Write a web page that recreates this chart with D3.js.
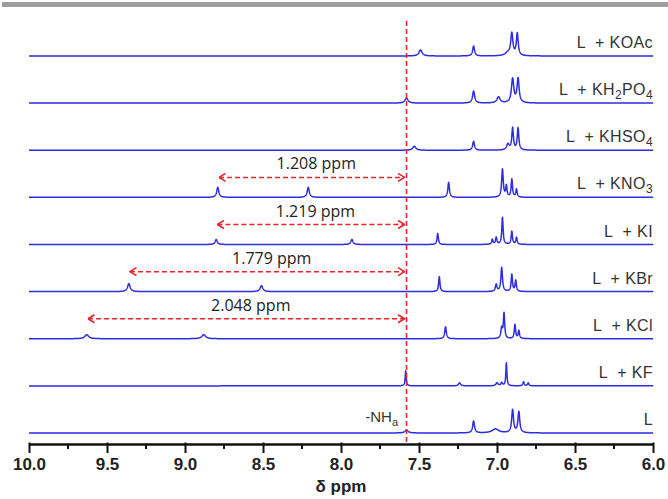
<!DOCTYPE html>
<html>
<head>
<meta charset="utf-8">
<script src="https://cdn.jsdelivr.net/npm/d3@7"></script>
<style>
  html, body { margin:0; padding:0; background:#fff; }
  svg { display:block; font-family: "Liberation Sans", Arial, sans-serif; }
</style>
</head>
<body>
<div id="chart"></div>
<script>
// stacked 1H NMR spectra, L with potassium salts

// trace order top -> bottom
const traces = ["KOAc", "KH2PO4", "KHSO4", "KNO3", "KI", "KBr", "KCl", "KF", "L"];

// peaks: [ppm, height, half width (ppm)]
const peaksKOAc   = [[7.49, 6, 0.012], [7.15, 10, 0.007], [6.93, 3, 0.02], [6.905, 22, 0.008], [6.87, 22, 0.007]];
const peaksKH2PO4 = [[7.58, 5, 0.012], [7.15, 12, 0.008], [6.99, 6, 0.012], [6.90, 24, 0.009], [6.865, 24, 0.008]];
const peaksKHSO4  = [[7.53, 4, 0.012], [7.15, 9, 0.007], [6.93, 6, 0.01], [6.90, 22, 0.006], [6.865, 22, 0.006]];
const peaksKNO3   = [[8.79, 10, 0.008], [8.21, 10, 0.008], [7.31, 15, 0.006], [6.965, 28, 0.006], [6.94, 11, 0.005], [6.905, 18, 0.005], [6.875, 8, 0.005]];
const peaksKI     = [[8.80, 5, 0.008], [7.93, 5, 0.008], [7.38, 11, 0.005], [7.03, 5, 0.005], [7.005, 7, 0.005], [6.965, 27, 0.005], [6.905, 13, 0.005], [6.875, 7, 0.005]];
const peaksKBr    = [[9.36, 8, 0.01], [8.51, 6, 0.01], [7.37, 15, 0.005], [7.005, 7, 0.006], [6.97, 24, 0.006], [6.905, 17, 0.005], [6.88, 11, 0.005]];
const peaksKCl    = [[9.63, 4, 0.015], [8.88, 4, 0.015], [7.33, 12, 0.006], [6.97, 10, 0.006], [6.955, 25, 0.005], [6.885, 14, 0.005], [6.86, 8, 0.005]];
const peaksKF     = [[7.585, 15, 0.004], [7.24, 3, 0.008], [7.00, 3, 0.008], [6.97, 3, 0.006], [6.94, 23, 0.004], [6.83, 4, 0.005], [6.80, 3, 0.005]];
const peaksL      = [[7.58, 3, 0.012], [7.15, 12, 0.007], [7.01, 4, 0.025], [6.90, 23, 0.007], [6.86, 21, 0.007]];

const peaksByTrace = {
  KOAc: peaksKOAc, KH2PO4: peaksKH2PO4, KHSO4: peaksKHSO4, KNO3: peaksKNO3,
  KI: peaksKI, KBr: peaksKBr, KCl: peaksKCl, KF: peaksKF, L: peaksL
};

// right-hand labels as [text, isSubscript] pieces
const labelParts = {
  KOAc:   [["KOAc", false]],
  KH2PO4: [["KH", false], ["2", true], ["PO", false], ["4", true]],
  KHSO4:  [["KHSO", false], ["4", true]],
  KNO3:   [["KNO", false], ["3", true]],
  KI:     [["KI", false]],
  KBr:    [["KBr", false]],
  KCl:    [["KCl", false]],
  KF:     [["KF", false]],
  L:      []
};

// shift arrows back to the free ligand NH
const NH_PPM = 7.58;
const shiftTraces = ["KNO3", "KI", "KBr", "KCl"];
const shiftValues = [1.208, 1.219, 1.779, 2.048];

const xTicksMajor = [10.0, 9.5, 9.0, 8.5, 8.0, 7.5, 7.0, 6.5, 6.0];
const xTicksMinor = [9.75, 9.25, 8.75, 8.25, 7.75, 7.25, 6.75, 6.25];

// --- layout ---
const W = 668, H = 499;
const BLUE = "#2c2ce0", RED = "#e8262a";

const svg = d3.select("#chart").append("svg")
  .attr("width", W).attr("height", H);

// gray strip at the very top
svg.append("rect").attr("x", 2).attr("y", 2).attr("width", W - 2).attr("height", 5).attr("fill", "#9d9d9d");

const x = d3.scaleLinear().domain([10, 6]).range([29, 653]);
const yBase = d3.scalePoint().domain(traces).range([56, 433]);

svg.append("defs").append("marker")
  .attr("id", "chev")
  .attr("viewBox", "0 0 8 10")
  .attr("refX", 7.5).attr("refY", 5)
  .attr("markerWidth", 8).attr("markerHeight", 10)
  .attr("markerUnits", "userSpaceOnUse")
  .attr("orient", "auto-start-reverse")
  .append("path")
  .attr("d", "M1,1 L7.5,5 L1,9")
  .attr("fill", "none").attr("stroke", RED).attr("stroke-width", 1.6);

// sample grid for the spectra
const grid = d3.range(10, 5.999, -0.001);

function spectrum(peaks) {
  return grid.map(p => {
    let v = 0;
    for (const [c, h, w] of peaks) {
      const d = (p - c) / w;
      v += h / (1 + d * d);
    }
    return [p, v];
  });
}

const gTraces = svg.append("g");
traces.forEach(t => {
  const b = yBase(t);
  const y = d3.scaleLinear().domain([0, 30]).range([b, b - 30]);
  const line = d3.line().x(d => x(d[0])).y(d => y(d[1]));
  gTraces.append("path")
    .datum(spectrum(peaksByTrace[t]))
    .attr("d", line)
    .attr("fill", "none")
    .attr("stroke", BLUE)
    .attr("stroke-width", 1.5)
    .attr("stroke-linejoin", "round");

  // right label
  const txt = svg.append("text")
    .attr("x", 653).attr("y", b - 8)
    .attr("text-anchor", "end")
    .attr("font-size", 16)
    .attr("letter-spacing", 0.4)
    .attr("fill", "#333")
    .style("white-space", "pre");
  txt.append("tspan").text(labelParts[t].length ? "L  + " : "L");
  let wasSub = false;
  labelParts[t].forEach(([s, sub]) => {
    const ts = txt.append("tspan").text(s);
    if (sub) ts.attr("font-size", 12).attr("dy", 4);
    else if (wasSub) ts.attr("dy", -4);
    wasSub = sub;
  });
});

// -NHa label
const nh = svg.append("text")
  .attr("x", 398).attr("y", yBase("L") - 11)
  .attr("text-anchor", "end")
  .attr("font-size", 15)
  .attr("fill", "#333");
nh.append("tspan").text("-NH");
nh.append("tspan").attr("font-size", 11).attr("dy", 4).text("a");

// dashed reference line at the NH shift
svg.append("line")
  .attr("x1", x(NH_PPM)).attr("x2", x(NH_PPM))
  .attr("y1", 21).attr("y2", 444)
  .attr("stroke", RED).attr("stroke-width", 1.6)
  .attr("stroke-dasharray", "5,3");

// shift arrows
shiftTraces.forEach((t, i) => {
  const ay = yBase(t) - 20;
  const from = NH_PPM + shiftValues[i];
  svg.append("line")
    .attr("x1", x(from) + 1).attr("x2", x(NH_PPM) - 2)
    .attr("y1", ay).attr("y2", ay)
    .attr("stroke", RED).attr("stroke-width", 1.5)
    .attr("stroke-dasharray", "5,3")
    .attr("marker-start", "url(#chev)")
    .attr("marker-end", "url(#chev)");
  svg.append("text")
    .attr("x", (x(from) + x(NH_PPM)) / 2 + 4)
    .attr("y", ay - 8)
    .attr("text-anchor", "middle")
    .style("font-family", "'Open Sans', sans-serif")
    .attr("font-size", 16)
    .attr("fill", "#222")
    .text(d3.format(".3f")(shiftValues[i]) + " ppm");
});

// axis
const axisY = 444;
const gAxis = svg.append("g").attr("transform", `translate(0,${axisY})`);
gAxis.call(d3.axisBottom(x).tickValues(xTicksMajor).tickSize(9).tickSizeOuter(0).tickFormat(d3.format(".1f")));
gAxis.select(".domain").attr("stroke", "#111").attr("stroke-width", 2.5);
gAxis.selectAll(".tick line").attr("stroke", "#111").attr("stroke-width", 2).attr("y1", -1.5);
gAxis.selectAll(".tick text")
  .attr("y", 14)
  .style("font-family", "'Liberation Sans', Arial, sans-serif")
  .attr("font-size", 17)
  .attr("font-weight", "bold")
  .attr("fill", "#222");

gAxis.selectAll(".minor").data(xTicksMinor).join("line")
  .attr("class", "minor")
  .attr("x1", d => x(d)).attr("x2", d => x(d))
  .attr("y1", 0).attr("y2", 5)
  .attr("stroke", "#111").attr("stroke-width", 2);

svg.append("text")
  .attr("x", (x(10) + x(6)) / 2).attr("y", 492)
  .attr("text-anchor", "middle")
  .attr("font-size", 17)
  .attr("font-weight", "bold")
  .attr("fill", "#222")
  .text("δ ppm");
</script>
</body>
</html>
